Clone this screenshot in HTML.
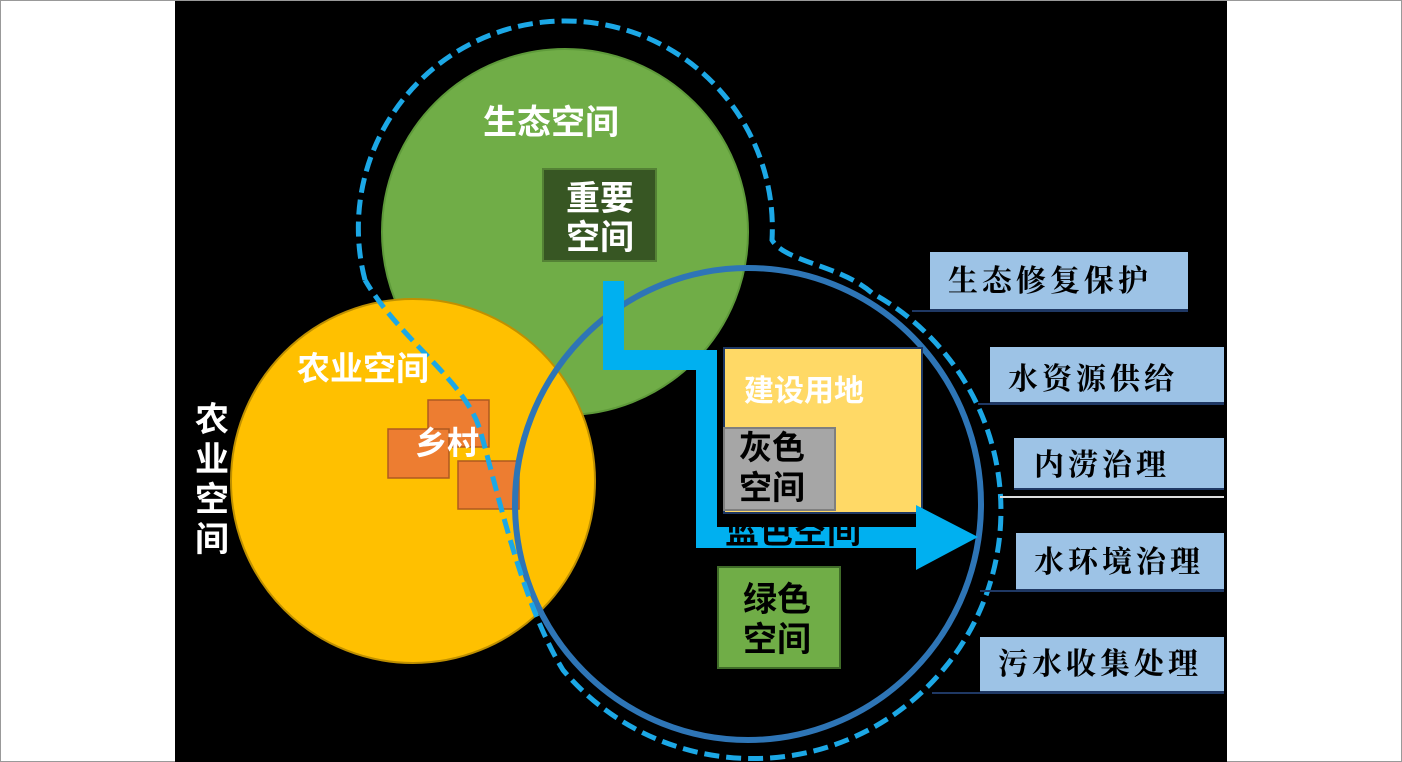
<!DOCTYPE html>
<html><head><meta charset="utf-8"><style>
html,body{margin:0;padding:0;}
body{width:1402px;height:762px;position:relative;background:#fff;overflow:hidden;font-family:"Liberation Sans","Noto Sans CJK SC",sans-serif;}
.abs{position:absolute;}
.bx{position:absolute;background:#9dc3e6;box-sizing:border-box;border-bottom:2px solid #1f3864;}
.bt{position:absolute;font-family:"Liberation Serif","Noto Serif CJK SC",serif;font-weight:700;font-size:30px;letter-spacing:4px;color:#000;line-height:1;white-space:nowrap;}
.wl{position:absolute;color:#fff;font-weight:700;white-space:nowrap;line-height:1;}
</style></head><body>
<div class="abs" style="left:0;top:0;width:1400px;height:760px;border:1px solid #999;"></div>
<div class="abs" style="left:175px;top:1px;width:1052px;height:761px;background:#000;"></div>
<svg class="abs" style="left:0;top:0" width="1402" height="762">
  <circle cx="565" cy="232" r="183" fill="#70ad47" stroke="#5e9a3a" stroke-width="2"/>
  <circle cx="413" cy="481" r="182" fill="#ffc000" stroke="#bf9000" stroke-width="2"/>
  <rect x="428" y="400" width="61" height="47" fill="#ed7d31" stroke="#ae5a21" stroke-width="1.5"/>
  <rect x="388" y="429" width="61" height="49" fill="#ed7d31" stroke="#ae5a21" stroke-width="1.5"/>
  <rect x="458" y="461" width="61" height="48" fill="#ed7d31" stroke="#ae5a21" stroke-width="1.5"/>
  <ellipse cx="748" cy="504" rx="233" ry="236" fill="none" stroke="#2e75b6" stroke-width="6"/>
  <path d="M365,280 A207 207 0 1 1 772,240 C785,262 840,265 872,293 A248 248 0 1 1 563,670 C520,600 495,480 480,430 C465,380 400,340 365,280" fill="none" stroke="#1ca8e6" stroke-width="5" stroke-dasharray="15 7"/>
  <rect x="543" y="169" width="113" height="92" fill="#375623" stroke="#548235" stroke-width="2"/>
  <rect x="724" y="348" width="198" height="165" fill="#ffd966" stroke="#1f3864" stroke-width="2"/>
  <rect x="724" y="428" width="111" height="82" fill="#a6a6a6" stroke="#7f7f7f" stroke-width="2"/>
  <rect x="718" y="567" width="122" height="101" fill="#70ad47" stroke="#3f6b28" stroke-width="2"/>
  <polygon points="603,281 624,281 624,350 717,350 717,527 916,527 916,505 978,537 916,570 916,548 696,548 696,370 603,370" fill="#00b0f0"/>
  <line x1="912" y1="311" x2="1188" y2="311" stroke="#1f3864" stroke-width="2"/>
  <line x1="978" y1="404" x2="1224" y2="404" stroke="#1f3864" stroke-width="2"/>
  <line x1="1000" y1="497" x2="1224" y2="497" stroke="#ddd" stroke-width="2"/>
  <line x1="980" y1="591" x2="1224" y2="591" stroke="#1f3864" stroke-width="2"/>
  <line x1="932" y1="693" x2="1224" y2="693" stroke="#1f3864" stroke-width="2"/>
</svg>
<div class="wl" style="left:483px;top:106px;font-size:34px;">生态空间</div>
<div class="wl" style="left:566px;top:180px;font-size:34px;line-height:39px;">重要<br>空间</div>
<div class="wl" style="left:297px;top:352px;font-size:33px;">农业空间</div>
<div class="wl" style="left:415px;top:427px;font-size:32px;">乡村</div>
<div class="wl" style="left:195px;top:400px;font-size:34px;line-height:40px;width:36px;white-space:normal;">农业空间</div>
<div class="wl" style="left:744px;top:377px;font-size:30px;">建设用地</div>
<div class="abs" style="left:739px;top:428px;font-size:33px;font-weight:700;color:#000;line-height:40px;">灰色<br>空间</div>
<div class="abs" style="left:743px;top:580px;font-size:34px;font-weight:700;color:#000;line-height:40px;">绿色<br>空间</div>
<div class="abs" style="left:720px;top:524px;width:150px;height:25px;overflow:hidden;">
  <div style="position:absolute;left:5px;top:-9px;font-size:34px;font-weight:700;color:#000;line-height:34px;white-space:nowrap;">蓝色空间</div>
</div>
<div class="bx" style="left:930px;top:252px;width:258px;height:59px;"></div>
<div class="bt" style="left:948px;top:267px;">生态修复保护</div>
<div class="bx" style="left:990px;top:347px;width:234px;height:57px;"></div>
<div class="bt" style="left:1008px;top:365px;">水资源供给</div>
<div class="bx" style="left:1014px;top:438px;width:210px;height:52px;"></div>
<div class="bt" style="left:1034px;top:451px;">内涝治理</div>
<div class="bx" style="left:1016px;top:533px;width:208px;height:58px;"></div>
<div class="bt" style="left:1034px;top:548px;">水环境治理</div>
<div class="bx" style="left:980px;top:637px;width:244px;height:56px;"></div>
<div class="bt" style="left:998px;top:650px;">污水收集处理</div>
</body></html>
